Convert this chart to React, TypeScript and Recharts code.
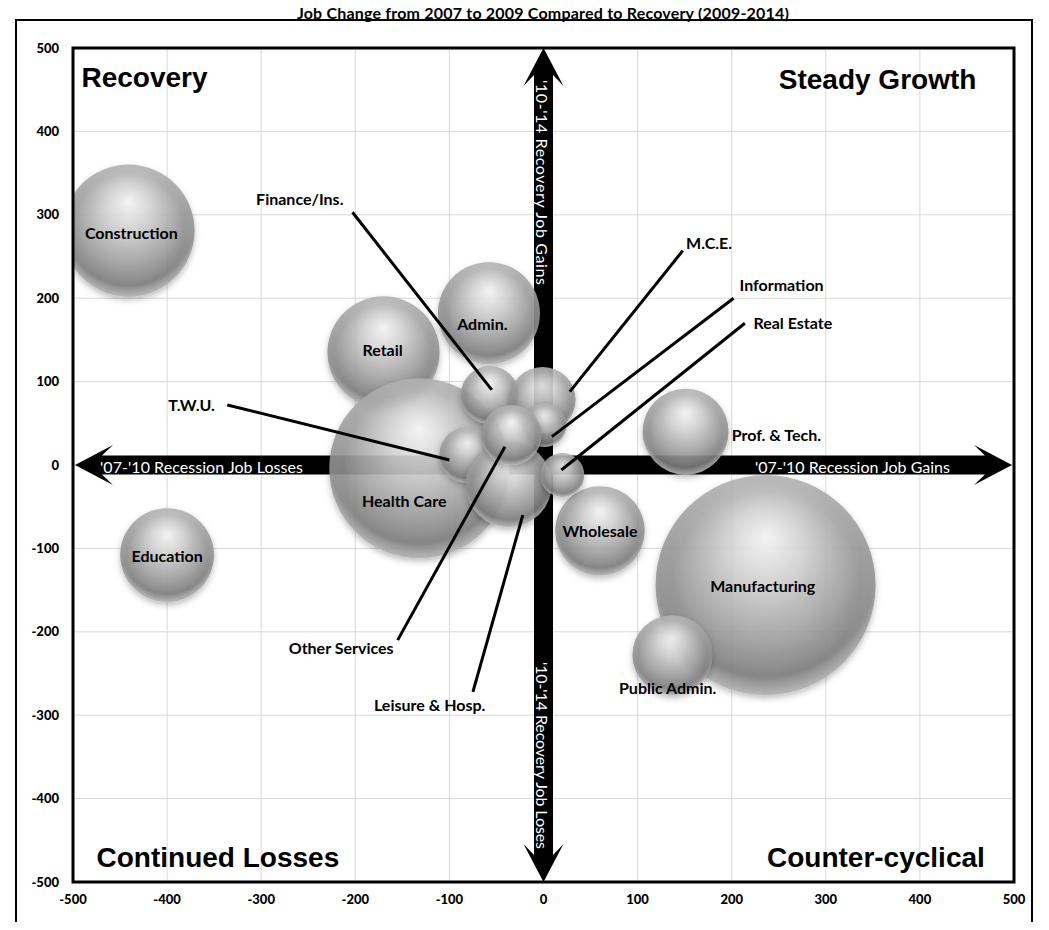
import React from 'react';
import {
  ScatterChart,
  Scatter,
  XAxis,
  YAxis,
  ZAxis,
  CartesianGrid,
  ReferenceLine,
  ReferenceArea,
} from 'recharts';

// ---------- data ----------
const industries = [
  'Construction', 'Education', 'Manufacturing', 'Public Admin.', 'Wholesale',
  'Prof. & Tech.', 'Retail', 'Admin.', 'Health Care', 'T.W.U.', 'Finance/Ins.',
  'M.C.E.', 'Information', 'Leisure & Hosp.', 'Real Estate', 'Other Services',
];
// '07-'10 recession job change (x)
const recessionChange = [-441, -400, 236, 137, 60, 151, -170, -58, -132, -81, -57, -1, 1, -37, 20, -34];
// '10-'14 recovery job change (y)
const recoveryChange = [281, -108, -144, -228, -79, 40, 135, 182, -4, 12, 84, 78, 48, -23, -12, 36];
// bubble size (industry size)
const bubbleSize = [43.6, 22, 121, 16, 20, 18.5, 31.4, 26, 81, 7.8, 8.4, 10.9, 4.8, 18.5, 4.8, 9];

const axisTicks = [-500, -400, -300, -200, -100, 0, 100, 200, 300, 400, 500];

// label annotations (data coordinates)
const labelNames = [
  'Construction', 'Education', 'Manufacturing', 'Public Admin.', 'Wholesale', 'Prof. & Tech.',
  'Retail', 'Admin.', 'Health Care', 'T.W.U.', 'Finance/Ins.', 'M.C.E.', 'Information',
  'Leisure & Hosp.', 'Real Estate', 'Other Services',
];
const labelX = [-438, -400, 233, 132, 60, 200, -171, -65, -148, -374, -259, 176, 253, -121, 265, -215];
const labelY = [279, -108, -144, -267, -79, 37, 139, 170, -42, 73, 320, 267, 216, -287, 171, -219];
const labelAnchor = ['middle', 'middle', 'middle', 'middle', 'middle', 'start', 'middle', 'middle', 'middle',
  'middle', 'middle', 'middle', 'middle', 'middle', 'middle', 'middle'];

// leader lines: from label to bubble
const leaderNames = ['Finance/Ins.', 'T.W.U.', 'M.C.E.', 'Information', 'Real Estate', 'Other Services', 'Leisure & Hosp.'];
const leaderFromX = [-203, -336, 148, 202, 214, -155, -75];
const leaderFromY = [303, 72, 257, 200, 170, -210, -272];
const leaderToX = [-55, -100, 28, 9, 19, -41, -22];
const leaderToY = [90, 6, 88, 34, -6, 22, -60];

const quadrantText = ['Recovery', 'Steady Growth', 'Continued Losses', 'Counter-cyclical'];
const quadrantX = [-491, 460, -475, 469];
const quadrantY = [465, 462, -471, -471];
const quadrantAnchor = ['start', 'end', 'start', 'end'];

const arrowTexts = {
  left: "'07-'10 Recession Job Losses",
  right: "'07-'10 Recession Job Gains",
  top: "'10-'14 Recovery Job Gains",
  bottom: "'10-'14 Recovery Job Loses",
};

const title = 'Job Change from 2007 to 2009 Compared to Recovery (2009-2014)';

// ---------- derived tables ----------
const bubbles = industries.map((name, i) => ({
  name,
  x: recessionChange[i],
  y: recoveryChange[i],
  z: bubbleSize[i],
}));
const labels = labelNames.map((name, i) => ({ name, x: labelX[i], y: labelY[i], anchor: labelAnchor[i] }));
const quadrants = quadrantText.map((name, i) => ({ name, x: quadrantX[i], y: quadrantY[i], anchor: quadrantAnchor[i] }));

const FONT = "Lato, 'Liberation Sans', sans-serif";

// ---------- shapes ----------
const Bubble = (props: any) => {
  const { cx, cy, width, size } = props;
  const r = width ? width / 2 : Math.sqrt((size || 0) / Math.PI);
  return (
    <g>
      <circle cx={cx} cy={cy} r={r} fill="url(#bubbleGrad)" fillOpacity={0.88} filter="url(#bshadow)" />
      <circle cx={cx} cy={cy} r={r} fill="url(#bubbleHi)" />
    </g>
  );
};

const LabelMark = (props: any) => {
  const { cx, cy, payload } = props;
  return (
    <text x={cx} y={cy} textAnchor={payload.anchor} dominantBaseline="central"
      fontFamily={FONT} fontWeight={700} fontSize={16} fill="#000">
      {payload.name}
    </text>
  );
};

const QuadrantMark = (props: any) => {
  const { cx, cy, payload } = props;
  return (
    <text x={cx} y={cy} textAnchor={payload.anchor} dominantBaseline="central"
      fontFamily="'Liberation Sans', Arial, sans-serif" fontWeight={700} fontSize={28} fill="#000">
      {payload.name}
    </text>
  );
};

const HArrow = (p: any) => {
  const y = p.y1;
  const L = Math.min(p.x1, p.x2) + 2;
  const R = Math.max(p.x1, p.x2) - 2;
  const head = 38, barb = 20, notch = 27, half = 9.5;
  const pts = [
    [L, y], [L + head, y - barb], [L + notch, y - half], [R - notch, y - half], [R - head, y - barb],
    [R, y], [R - head, y + barb], [R - notch, y + half], [L + notch, y + half], [L + head, y + barb],
  ].map((q) => q.join(',')).join(' ');
  return (
    <g>
      <polygon points={pts} fill="#000" />
      <text x={L + 25} y={y + 1} fill="#fff" fontFamily={FONT} fontSize={16} dominantBaseline="central"
        textAnchor="start" textLength={203} lengthAdjust="spacing">
        {arrowTexts.left}
      </text>
      <text x={R - 257} y={y + 1} fill="#fff" fontFamily={FONT} fontSize={16} dominantBaseline="central"
        textAnchor="start" textLength={195} lengthAdjust="spacing">
        {arrowTexts.right}
      </text>
    </g>
  );
};

const VArrow = (p: any) => {
  const x = p.x1;
  const T = Math.min(p.y1, p.y2);
  const B = Math.max(p.y1, p.y2);
  const head = 38, barb = 20, notch = 27, half = 9.5;
  const pts = [
    [x, T], [x + barb, T + head], [x + half, T + notch], [x + half, B - notch], [x + barb, B - head],
    [x, B], [x - barb, B - head], [x - half, B - notch], [x - half, T + notch], [x - barb, T + head],
  ].map((q) => q.join(',')).join(' ');
  return (
    <g>
      <polygon points={pts} fill="#000" />
      <text transform={`translate(${x - 1},${T + 32}) rotate(90)`} fill="#fff" fontFamily={FONT} fontSize={16}
        dominantBaseline="central" textAnchor="start" textLength={205} lengthAdjust="spacing">
        {arrowTexts.top}
      </text>
      <text transform={`translate(${x - 1},${B - 220}) rotate(90)`} fill="#fff" fontFamily={FONT} fontSize={16}
        dominantBaseline="central" textAnchor="start" textLength={187} lengthAdjust="spacing">
        {arrowTexts.bottom}
      </text>
    </g>
  );
};

export default function App() {
  return (
    <div style={{ position: 'relative', width: 1041, height: 922, marginBottom: -8, background: '#fff' }}>
      <div
        style={{
          position: 'absolute', left: 7, top: 11, width: 1018, height: 911,
          borderLeft: '2px solid #000', borderRight: '2px solid #000', borderTop: '2px solid #000',
          boxSizing: 'border-box',
        }}
      />
      <div style={{ position: 'absolute', left: 0, top: 0 }}>
        <ScatterChart width={1041} height={914} margin={{ top: 40, right: 35, bottom: 10, left: 15 }}>
          <defs>
            <radialGradient id="bubbleGrad" cx="50%" cy="42%" r="58%" fx="50%" fy="28%">
              <stop offset="0%" stopColor="#f6f6f6" />
              <stop offset="30%" stopColor="#d2d2d2" />
              <stop offset="68%" stopColor="#9c9c9c" />
              <stop offset="88%" stopColor="#7c7c7c" />
              <stop offset="100%" stopColor="#a4a4a4" />
            </radialGradient>
            <radialGradient id="bubbleHi" cx="50%" cy="50%" r="50%">
              <stop offset="85%" stopColor="#ffffff" stopOpacity={0} />
              <stop offset="100%" stopColor="#ffffff" stopOpacity={0.15} />
            </radialGradient>
            <filter id="bshadow" x="-30%" y="-30%" width="160%" height="170%">
              <feDropShadow dx="0" dy="3" stdDeviation="3" floodColor="#000" floodOpacity={0.3} />
            </filter>
          </defs>
          <CartesianGrid stroke="#d9d9d9" strokeWidth={1} />
          <XAxis
            type="number" dataKey="x" domain={[-500, 500]} ticks={axisTicks} interval={0}
            allowDataOverflow axisLine={false} tickLine={false} tickSize={6} tickMargin={7}
            tick={{ fontFamily: FONT, fontWeight: 900, fontSize: 13, fill: '#000' }}
          />
          <YAxis
            type="number" dataKey="y" domain={[-500, 500]} ticks={axisTicks} interval={0}
            allowDataOverflow width={50} axisLine={false} tickLine={false} tickSize={6} tickMargin={8}
            tick={{ fontFamily: FONT, fontWeight: 900, fontSize: 13, fill: '#000' }}
          />
          <ZAxis type="number" dataKey="z" domain={[0, 200]} range={[0, 200 * 100 * Math.PI]} />
          <ReferenceLine y={0} shape={HArrow} ifOverflow="visible" zIndex={-50} />
          <ReferenceLine x={0} shape={VArrow} ifOverflow="visible" zIndex={-50} />
          <Scatter data={bubbles} shape={Bubble} isAnimationActive={false} zIndex={600} />
          {leaderNames.map((n, i) => (
            <ReferenceLine
              key={n}
              segment={[{ x: leaderFromX[i], y: leaderFromY[i] }, { x: leaderToX[i], y: leaderToY[i] }]}
              stroke="#000" strokeWidth={3} ifOverflow="visible" zIndex={700}
            />
          ))}
          <Scatter data={labels} shape={LabelMark} isAnimationActive={false} zIndex={800} />
          <Scatter data={quadrants} shape={QuadrantMark} isAnimationActive={false} zIndex={800} />
          <ReferenceArea
            x1={-500} x2={500} y1={-500} y2={500} fill="none" fillOpacity={0}
            stroke="#000" strokeWidth={3} ifOverflow="visible" zIndex={900}
          />
        </ScatterChart>
      </div>
      <div
        style={{
          position: 'absolute', left: 26, top: -4, width: 1018, textAlign: 'center',
          fontFamily: FONT, fontWeight: 700, fontSize: 16, letterSpacing: '0.2px', lineHeight: '18px',
          color: '#000', zIndex: 5,
        }}
      >
        {title}
      </div>
    </div>
  );
}
